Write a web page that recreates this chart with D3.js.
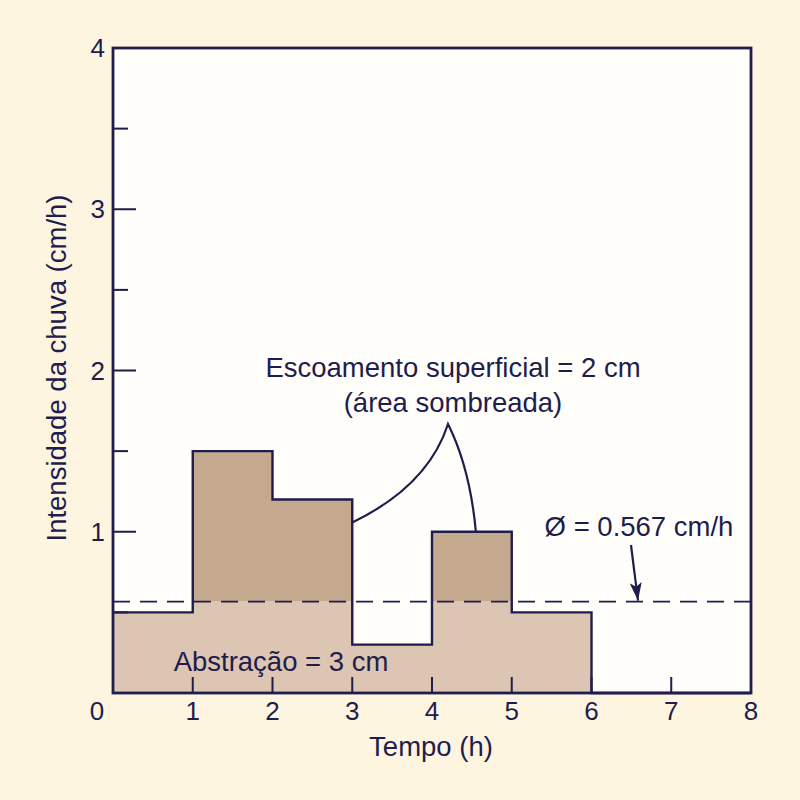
<!DOCTYPE html>
<html>
<head>
<meta charset="utf-8">
<script src="https://cdn.jsdelivr.net/npm/d3@7"></script>
<style>
body { margin: 0; background: #fdf5e0; }
svg { display: block; }
</style>
</head>
<body>
<svg id="mySVG" width="800" height="800"></svg>
<script>
//---chart data---
var hourStarts = [0, 1, 2, 3, 4, 5, 6]
var intensity = [0.5, 1.5, 1.2, 0.3, 1.0, 0.5, 0]
var phiIndex = 0.567
var xTicks = [0, 1, 2, 3, 4, 5, 6, 7, 8]
var yMajor = [1, 2, 3, 4]
var yMinor = [0.5, 1.5, 2.5, 3.5]

var INK = "#1f1d4d"
var FONT = "Liberation Sans, Arial, Helvetica, sans-serif"

var MySVG = d3.select("#mySVG")
var padL = 113, padR = 751, padT = 48, padB = 693

var x = d3.scaleLinear().domain([0, 8]).range([padL, padR])
var y = d3.scaleLinear().domain([0, 4]).range([padB, padT])

MySVG.append("rect")
    .attr("width", 800).attr("height", 800)
    .attr("fill", "#fdf5e0")

MySVG.append("rect")
    .attr("x", padL).attr("y", padT)
    .attr("width", padR - padL).attr("height", padB - padT)
    .attr("fill", "#fffefb")

//---step points (last value carried to 8h)---
var pts = hourStarts.map(function(h, i){ return {t: h, v: intensity[i]} })
pts.push({t: 8, v: 0})

var lightArea = d3.area()
    .curve(d3.curveStepAfter)
    .x(function(d){ return x(d.t) })
    .y0(y(0))
    .y1(function(d){ return y(Math.min(d.v, phiIndex)) })

var darkArea = d3.area()
    .curve(d3.curveStepAfter)
    .x(function(d){ return x(d.t) })
    .y0(y(phiIndex))
    .y1(function(d){ return y(Math.max(d.v, phiIndex)) })

MySVG.append("path").attr("d", lightArea(pts)).attr("fill", "#dcc5b2")
MySVG.append("path").attr("d", darkArea(pts)).attr("fill", "#c4a98f")

var stepLine = d3.line()
    .curve(d3.curveStepAfter)
    .x(function(d){ return x(d.t) })
    .y(function(d){ return y(d.v) })

MySVG.append("path")
    .attr("d", stepLine(pts))
    .attr("fill", "none")
    .attr("stroke", INK)
    .attr("stroke-width", 2.4)

//---phi index dashed line---
MySVG.append("line")
    .attr("x1", x(0)).attr("x2", x(8))
    .attr("y1", y(phiIndex)).attr("y2", y(phiIndex))
    .attr("stroke", INK)
    .attr("stroke-width", 1.8)
    .attr("stroke-dasharray", "17,10")

//---ticks (inside)---
var tickG = MySVG.append("g").attr("stroke", INK).attr("stroke-width", 2)
tickG.selectAll(".xt").data(xTicks.slice(1, -1)).enter().append("line")
    .attr("x1", function(d){ return x(d) }).attr("x2", function(d){ return x(d) })
    .attr("y1", padB).attr("y2", padB - 16)
tickG.selectAll(".ym").data(yMajor.slice(0, -1)).enter().append("line")
    .attr("x1", padL).attr("x2", padL + 23)
    .attr("y1", function(d){ return y(d) }).attr("y2", function(d){ return y(d) })
tickG.selectAll(".yn").data(yMinor).enter().append("line")
    .attr("x1", padL).attr("x2", padL + 15)
    .attr("y1", function(d){ return y(d) }).attr("y2", function(d){ return y(d) })

//---frame---
MySVG.append("rect")
    .attr("x", padL).attr("y", padT)
    .attr("width", padR - padL).attr("height", padB - padT)
    .attr("fill", "none")
    .attr("stroke", INK)
    .attr("stroke-width", 2.8)

//---tick labels---
var labG = MySVG.append("g")
    .attr("font-family", FONT)
    .attr("font-size", 26)
    .attr("fill", INK)
labG.selectAll(".xl").data(xTicks).enter().append("text")
    .attr("x", function(d, i){ return i == 0 ? x(d) - 16 : x(d) })
    .attr("y", 720)
    .attr("text-anchor", "middle")
    .text(function(d){ return d })
labG.selectAll(".yl").data(yMajor).enter().append("text")
    .attr("x", 105)
    .attr("y", function(d){ return y(d) + 9 })
    .attr("text-anchor", "end")
    .text(function(d){ return d })

//---axis titles and notes---
var noteG = MySVG.append("g")
    .attr("font-family", FONT)
    .attr("font-size", 27.5)
    .attr("fill", INK)
    .attr("text-anchor", "middle")
noteG.append("text")
    .attr("x", 431).attr("y", 756)
    .text("Tempo (h)")
noteG.append("text")
    .attr("transform", "translate(66,368) rotate(-90)")
    .text("Intensidade da chuva (cm/h)")
noteG.append("text")
    .attr("x", 453).attr("y", 377)
    .text("Escoamento superficial = 2 cm")
noteG.append("text")
    .attr("x", 453).attr("y", 412)
    .text("(área sombreada)")
noteG.append("text")
    .attr("x", 281).attr("y", 671)
    .text("Abstração = 3 cm")
noteG.append("text")
    .attr("x", 639).attr("y", 536)
    .text("Ø = 0.567 cm/h")

//---leader curves---
var apexX = 448, apexY = 424
MySVG.append("path")
    .attr("d", "M" + x(3) + "," + (y(1.2) + 23) + " Q" + 428 + "," + 486 + " " + apexX + "," + apexY
        + " Q" + 470 + "," + 468 + " " + x(4.55) + "," + y(1.0))
    .attr("fill", "none")
    .attr("stroke", INK)
    .attr("stroke-width", 2.2)

//---phi arrow---
MySVG.append("defs").append("marker")
    .attr("id", "endArrow")
    .attr("viewBox", "0 0 18 12")
    .attr("refX", 18).attr("refY", 6)
    .attr("markerUnits", "userSpaceOnUse")
    .attr("markerWidth", 18).attr("markerHeight", 12)
    .attr("orient", "auto")
    .append("path")
    .attr("d", "M0,0 L18,6 L0,12 L4,6 Z")
    .attr("fill", INK)
MySVG.append("line")
    .attr("x1", 631).attr("y1", 545)
    .attr("x2", 638).attr("y2", y(phiIndex) - 1)
    .attr("stroke", INK)
    .attr("stroke-width", 2.2)
    .attr("marker-end", "url(#endArrow)")
</script>
</body>
</html>
